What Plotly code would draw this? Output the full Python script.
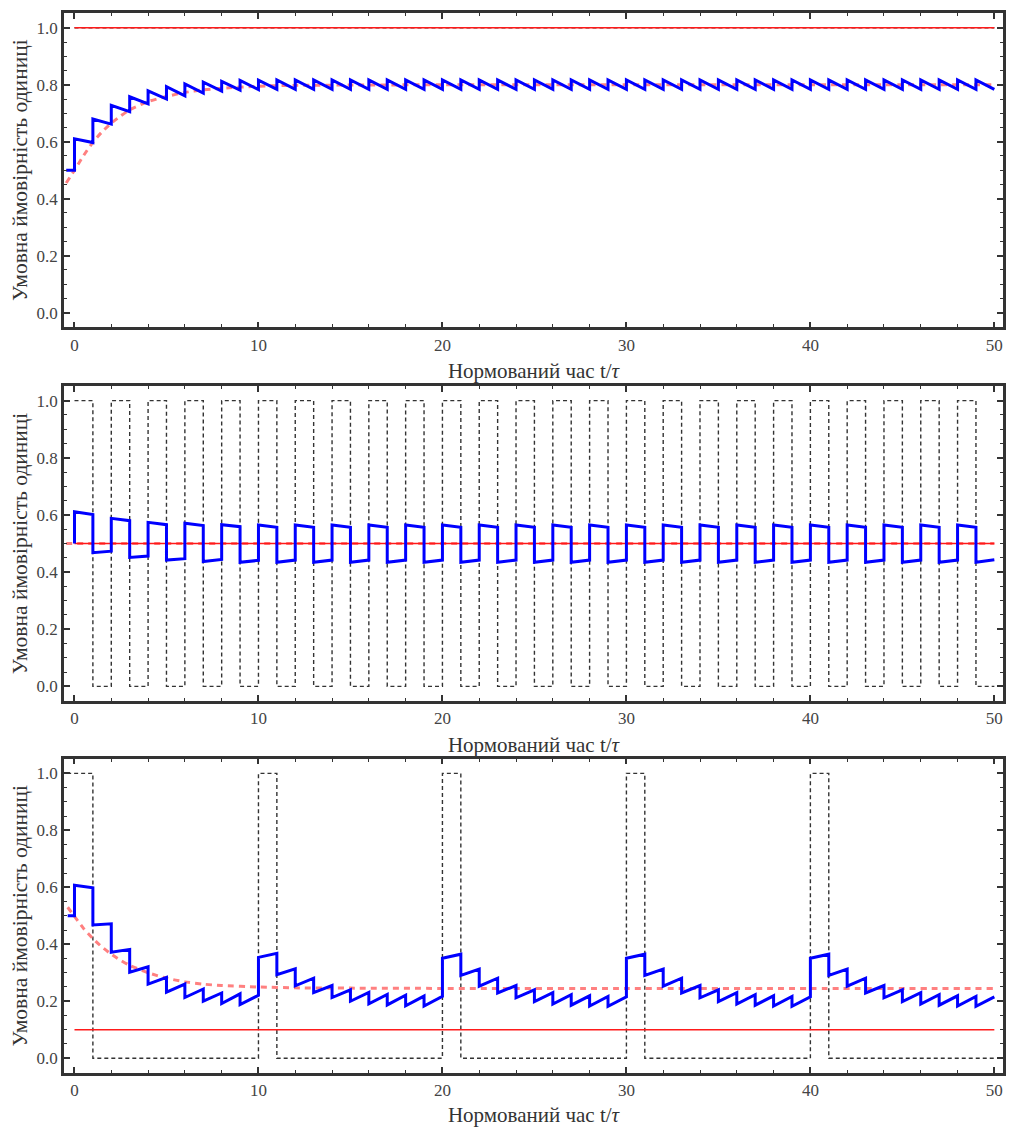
import plotly.graph_objects as go

# ---------------- data ----------------
steps = list(range(0, 51))  # integer time points 0..50

# Panel 1: input all ones
p1_start_t, p1_start_y = -0.45, 0.5
p1_jump = [0.610, 0.680, 0.728, 0.758, 0.779, 0.793, 0.803, 0.809, 0.812, 0.815,
           0.816, 0.817, 0.817, 0.817, 0.817, 0.817, 0.817, 0.817, 0.817, 0.817,
           0.817, 0.817, 0.817, 0.817, 0.817, 0.817, 0.817, 0.817, 0.817, 0.817,
           0.817, 0.817, 0.817, 0.817, 0.817, 0.817, 0.817, 0.817, 0.817, 0.817,
           0.817, 0.817, 0.817, 0.817, 0.817, 0.817, 0.817, 0.817, 0.817, 0.817]
p1_end = [0.597, 0.662, 0.706, 0.733, 0.750, 0.761, 0.771, 0.778, 0.781, 0.783,
          0.784, 0.784, 0.784, 0.784, 0.784, 0.784, 0.784, 0.784, 0.784, 0.784,
          0.784, 0.784, 0.784, 0.784, 0.784, 0.784, 0.784, 0.784, 0.784, 0.784,
          0.784, 0.784, 0.784, 0.784, 0.784, 0.784, 0.784, 0.784, 0.784, 0.784,
          0.784, 0.784, 0.784, 0.784, 0.784, 0.784, 0.784, 0.784, 0.784, 0.784]
p1_input = [1, 1, 1, 1, 1, 1, 1, 1, 1, 1, 1, 1, 1, 1, 1, 1, 1, 1, 1, 1, 1, 1, 1, 1, 1,
            1, 1, 1, 1, 1, 1, 1, 1, 1, 1, 1, 1, 1, 1, 1, 1, 1, 1, 1, 1, 1, 1, 1, 1, 1]
p1_mean = 1.0
p1_smooth_t = [-0.45, 0, 0.5, 1, 1.5, 2, 2.5, 3, 4, 5, 6, 7, 8, 10, 12, 15, 20, 30, 40, 50]
p1_smooth_y = [0.455, 0.500, 0.552, 0.598, 0.635, 0.665, 0.690, 0.712, 0.741, 0.759,
               0.773, 0.782, 0.788, 0.795, 0.798, 0.799, 0.800, 0.800, 0.800, 0.800]

# Panel 2: alternating input 1,0,1,0,...
p2_start_t, p2_start_y = 0.0, 0.5
p2_jump = [0.611, 0.468, 0.588, 0.451, 0.574, 0.442, 0.571, 0.437, 0.566, 0.434,
           0.565, 0.434, 0.565, 0.434, 0.565, 0.434, 0.565, 0.434, 0.565, 0.434,
           0.565, 0.434, 0.565, 0.434, 0.565, 0.434, 0.565, 0.434, 0.565, 0.434,
           0.565, 0.434, 0.565, 0.434, 0.565, 0.434, 0.565, 0.434, 0.565, 0.434,
           0.565, 0.434, 0.565, 0.434, 0.565, 0.434, 0.565, 0.434, 0.565, 0.434]
p2_end = [0.601, 0.473, 0.580, 0.456, 0.566, 0.447, 0.563, 0.444, 0.559, 0.441,
          0.557, 0.442, 0.557, 0.442, 0.557, 0.442, 0.557, 0.442, 0.557, 0.442,
          0.557, 0.442, 0.557, 0.442, 0.557, 0.442, 0.557, 0.442, 0.557, 0.442,
          0.557, 0.442, 0.557, 0.442, 0.557, 0.442, 0.557, 0.442, 0.557, 0.442,
          0.557, 0.442, 0.557, 0.442, 0.557, 0.442, 0.557, 0.442, 0.557, 0.443]
p2_input = [1, 0, 1, 0, 1, 0, 1, 0, 1, 0, 1, 0, 1, 0, 1, 0, 1, 0, 1, 0, 1, 0, 1, 0, 1,
            0, 1, 0, 1, 0, 1, 0, 1, 0, 1, 0, 1, 0, 1, 0, 1, 0, 1, 0, 1, 0, 1, 0, 1, 0]
p2_mean = 0.5
p2_smooth_t = [-0.45, 50]
p2_smooth_y = [0.5, 0.5]

# Panel 3: a one every 10 steps
p3_start_t, p3_start_y = -0.37, 0.5
p3_jump = [0.607, 0.468, 0.372, 0.302, 0.260, 0.232, 0.213, 0.200, 0.192, 0.188,
           0.354, 0.293, 0.254, 0.230, 0.213, 0.200, 0.191, 0.187, 0.184, 0.183,
           0.351, 0.291, 0.253, 0.229, 0.212, 0.199, 0.190, 0.186, 0.183, 0.182,
           0.351, 0.291, 0.253, 0.229, 0.212, 0.199, 0.190, 0.186, 0.183, 0.182,
           0.351, 0.291, 0.253, 0.229, 0.212, 0.199, 0.190, 0.186, 0.183, 0.182]
p3_end = [0.598, 0.472, 0.382, 0.321, 0.284, 0.260, 0.243, 0.229, 0.226, 0.221,
          0.368, 0.314, 0.281, 0.255, 0.240, 0.231, 0.224, 0.221, 0.218, 0.217,
          0.365, 0.313, 0.281, 0.255, 0.240, 0.230, 0.223, 0.219, 0.217, 0.215,
          0.365, 0.313, 0.281, 0.255, 0.240, 0.230, 0.223, 0.219, 0.217, 0.215,
          0.365, 0.313, 0.281, 0.255, 0.240, 0.230, 0.223, 0.219, 0.217, 0.215]
p3_input = [1, 0, 0, 0, 0, 0, 0, 0, 0, 0, 1, 0, 0, 0, 0, 0, 0, 0, 0, 0, 1, 0, 0, 0, 0,
            0, 0, 0, 0, 0, 1, 0, 0, 0, 0, 0, 0, 0, 0, 0, 1, 0, 0, 0, 0, 0, 0, 0, 0, 0]
p3_input_start = -0.4
p3_mean = 0.1
p3_smooth_t = [-0.37, 0, 0.5, 1, 1.5, 2, 2.5, 3, 4, 5, 6, 7, 8, 10, 12, 15, 20, 30, 40, 50]
p3_smooth_y = [0.530, 0.498, 0.455, 0.420, 0.390, 0.365, 0.344, 0.326, 0.300, 0.281,
               0.268, 0.260, 0.255, 0.250, 0.247, 0.246, 0.245, 0.245, 0.245, 0.245]

x_ticks = [0, 10, 20, 30, 40, 50]
y_ticks = [0.0, 0.2, 0.4, 0.6, 0.8, 1.0]
y_title = "Умовна ймовірність одиниці"
x_title = "Нормований час t/<i>τ</i>"

# ---------------- helpers ----------------
def sawtooth(t0, y0, jumps, ends):
    xs, ys = [t0, steps[0]], [y0, y0]
    for k in range(len(jumps)):
        xs += [steps[k], steps[k + 1]]
        ys += [jumps[k], ends[k]]
    return xs, ys

def input_path(vals, t_first=None):
    xs, ys = [], []
    for k, v in enumerate(vals):
        a = steps[k] if (k > 0 or t_first is None) else t_first
        xs += [a, steps[k + 1]]
        ys += [v, v]
    return xs, ys

BLUE = "#0000FF"
RED = "#FF1A1A"
PINK = "#FF8080"
DARK = "#333333"
SERIF = "Liberation Serif, Times New Roman, DejaVu Serif, serif"

fig = go.Figure()
panels = [
    dict(jump=p1_jump, end=p1_end, t0=p1_start_t, y0=p1_start_y, inp=p1_input, inp_start=None,
         mean=p1_mean, st=p1_smooth_t, sy=p1_smooth_y),
    dict(jump=p2_jump, end=p2_end, t0=p2_start_t, y0=p2_start_y, inp=p2_input, inp_start=None,
         mean=p2_mean, st=p2_smooth_t, sy=p2_smooth_y),
    dict(jump=p3_jump, end=p3_end, t0=p3_start_t, y0=p3_start_y, inp=p3_input, inp_start=p3_input_start,
         mean=p3_mean, st=p3_smooth_t, sy=p3_smooth_y),
]

for i, p in enumerate(panels):
    xa = "x" if i == 0 else f"x{i+1}"
    ya = "y" if i == 0 else f"y{i+1}"
    ix, iy = input_path(p["inp"], p["inp_start"])
    fig.add_trace(go.Scatter(x=ix, y=iy, mode="lines", xaxis=xa, yaxis=ya,
                             line=dict(color=DARK, width=1.4, dash="4px,3px"), showlegend=False))
    fig.add_trace(go.Scatter(x=p["st"], y=p["sy"], mode="lines", xaxis=xa, yaxis=ya,
                             line=dict(color=PINK, width=3, dash="6px,5px", shape="spline", smoothing=0.6),
                             showlegend=False))
    fig.add_trace(go.Scatter(x=[steps[0], steps[-1]], y=[p["mean"], p["mean"]], mode="lines",
                             xaxis=xa, yaxis=ya, line=dict(color=RED, width=1.6), showlegend=False))
    bx, by = sawtooth(p["t0"], p["y0"], p["jump"], p["end"])
    fig.add_trace(go.Scatter(x=bx, y=by, mode="lines", xaxis=xa, yaxis=ya,
                             line=dict(color=BLUE, width=3), showlegend=False))

W, H = 1000, 1119
OFF = 5
top_m, bot_m = 2, 45
plot_h = H - top_m - bot_m
def dom(top_page, bot_page):
    top_px, bot_px = top_page - OFF, bot_page - OFF
    return [max(0.0, (H - bot_m - bot_px) / plot_h), min(1.0, (H - bot_m - top_px) / plot_h)]

domains = [dom(7, 325), dom(384, 703), dom(761, 1079)]

axis_common = dict(showline=True, linewidth=2.5, linecolor=DARK, mirror="allticks",
                   ticks="inside", ticklen=6, tickwidth=1.5, tickcolor=DARK,
                   showgrid=False, zeroline=False,
                   tickfont=dict(family=SERIF, size=17, color="#444444"))

layout = dict(width=W, height=H, paper_bgcolor="white", plot_bgcolor="white",
              font=dict(family=SERIF),
              margin=dict(l=56, r=2, t=top_m, b=bot_m), showlegend=False)
for i in range(3):
    xk = "xaxis" if i == 0 else f"xaxis{i+1}"
    yk = "yaxis" if i == 0 else f"yaxis{i+1}"
    layout[xk] = dict(axis_common, range=[-0.57, 50.47], tickvals=x_ticks,
                      anchor="y" if i == 0 else f"y{i+1}",
                      minor=dict(dtick=2, tick0=0, ticklen=3.5, tickwidth=1.2, tickcolor=DARK, ticks="inside"),
                      title=dict(text=x_title, standoff=10,
                                 font=dict(family=SERIF, size=21, color="#333333")))
    layout[yk] = dict(axis_common, range=[-0.052, 1.052], tickvals=y_ticks, tickformat=".1f",
                      domain=domains[i], anchor="x" if i == 0 else f"x{i+1}",
                      minor=dict(dtick=0.05, tick0=0, ticklen=3.5, tickwidth=1.2, tickcolor=DARK, ticks="inside"),
                      title=dict(text=y_title, standoff=6,
                                 font=dict(family=SERIF, size=21.5, color="#333333")))
fig.update_layout(**layout)
fig.write_html("out.html")
